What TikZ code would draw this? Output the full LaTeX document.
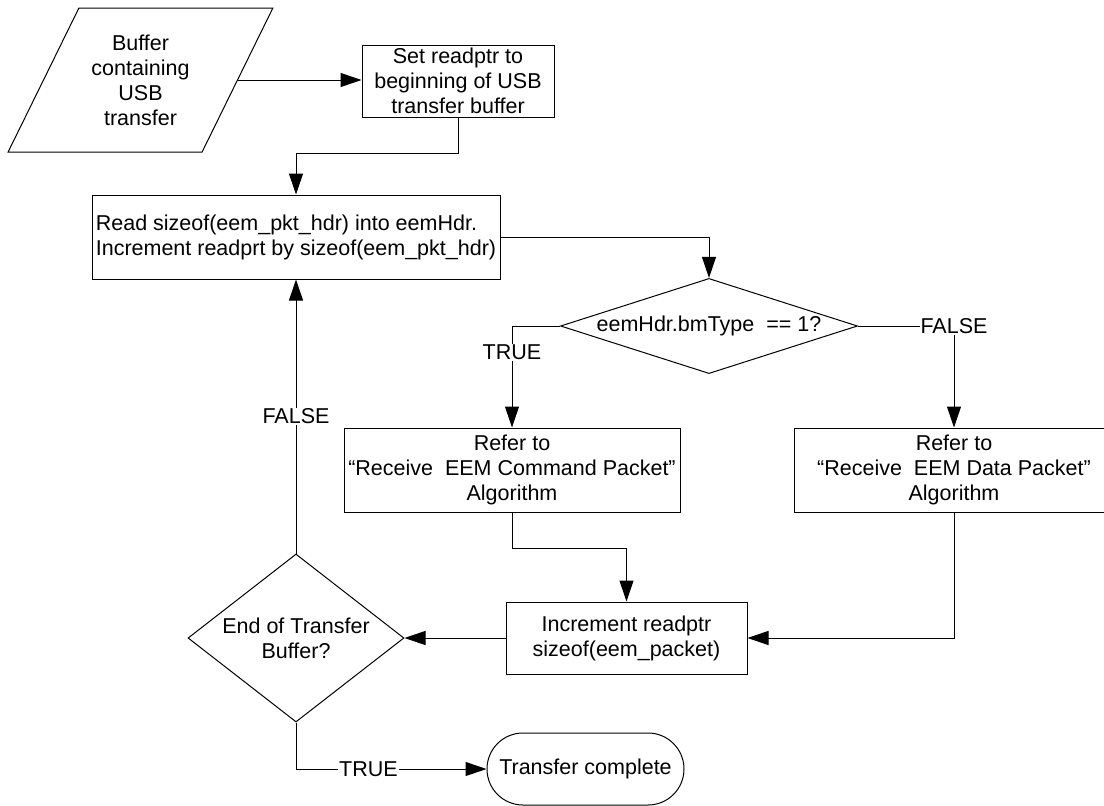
\documentclass[tikz,border=0pt]{standalone}
\usepackage{fontspec}
\setmainfont{Liberation Sans}
\usetikzlibrary{arrows.meta,positioning,shapes.geometric}

\begin{document}
\begin{tikzpicture}[x=1pt,y=-1pt,>={Triangle[length=21pt,width=14pt]},
    every node/.style={font=\fontsize{21.5}{25}\selectfont},
    box/.style={rectangle,draw,align=center,line width=1pt,inner sep=2pt},
    decision/.style={diamond,draw,align=center,line width=1pt,inner sep=1pt},
    io/.style={trapezium,trapezium left angle=58.3,trapezium right angle=121.7,trapezium stretches=true,draw,align=center,line width=1pt},
    term/.style={rectangle,rounded corners=36pt,draw,line width=1pt,minimum width=197pt,minimum height=72pt},
    flow/.style={->,line width=1pt},
    lbl/.style={fill=white,inner sep=1pt}]

    \useasboundingbox (0,0) rectangle (1104,806);

    % Start
    \node[io,minimum width=265pt,minimum height=144pt] (buf) at (140.5,80) {Buffer\\containing\\USB\\transfer};
    \node[box,minimum width=192pt,minimum height=72pt] (setp) at (458,81) {Set readptr to\\beginning of USB\\transfer buffer};

    % Header read and type test
    \node[box,align=left,minimum width=408pt,minimum height=84pt] (read) at (296,237) {Read sizeof(eem\_pkt\_hdr) into eemHdr.\\Increment readprt by sizeof(eem\_pkt\_hdr)};
    \node[decision,aspect=3.1,minimum width=297pt,minimum height=95pt] (type) at (709,326) {eemHdr.bmType\ \ == 1?};

    % Packet handling
    \node[box,minimum width=336pt,minimum height=84pt] (cmd) at (512,470) {Refer to\\``Receive\ \ EEM Command Packet''\\Algorithm};
    \node[box,minimum width=320pt,minimum height=84pt] (data) at (954,470) {Refer to\\``Receive\ \ EEM Data Packet''\\Algorithm};
    \node[box,minimum width=241pt,minimum height=72pt] (inc) at (626.5,638) {Increment readptr\\sizeof(eem\_packet)};

    % End test
    \node[decision,aspect=1.29,minimum width=216pt,minimum height=168pt] (endbuf) at (296,638) {End of Transfer\\Buffer?};
    \node[term] (done) at (585.5,769) {Transfer complete};

    % Flow
    \draw[flow] (buf.east) -- (buf.east -| setp.west);
    \draw[flow] (setp.south) -- ++(0,36) -| (read.north);
    \draw[flow] (read.east) -| (type.north);
    \draw[flow] (type.west) -| node[lbl,pos=0.63] {TRUE} (cmd.north);
    \draw[flow] (type.east) -| node[lbl,pos=0.5] {FALSE} (data.north);
    \draw[flow] (cmd.south) -- ++(0,36) -| (inc.north);
    \draw[flow] (data.south) |- (inc.east);
    \draw[flow] (inc.west) -- (endbuf.east);
    \draw[flow] (endbuf.north) -- node[lbl] {FALSE} (read.south);
    \draw[flow] (endbuf.south) |- node[lbl,pos=0.69] {TRUE} (done.west);
\end{tikzpicture}
\end{document}
